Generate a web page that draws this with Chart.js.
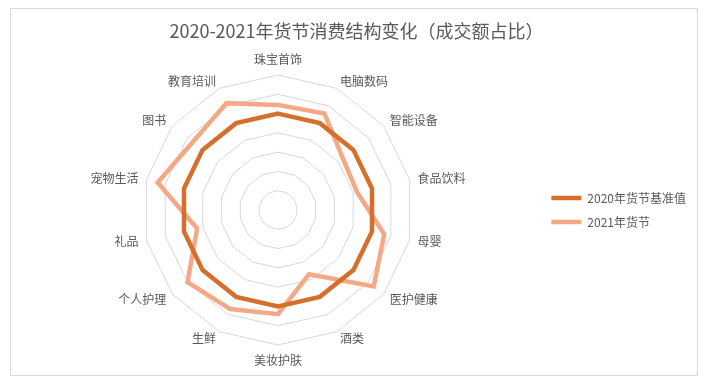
<!DOCTYPE html>
<html>
<head>
<meta charset="utf-8">
<script src="https://cdn.jsdelivr.net/npm/chart.js@4/dist/chart.umd.min.js"></script>
<style>
  body { margin: 0; background: #fff; }
  #wrap { width: 704px; height: 384px; }
</style>
</head>
<body>
<div id="wrap"><canvas id="radar-chart" width="704" height="384"></canvas></div>
<script>
    const categories = ['珠宝首饰', '电脑数码', '智能设备', '食品饮料', '母婴', '医护健康', '酒类',
        '美妆护肤', '生鲜', '个人护理', '礼品', '宠物生活', '图书', '教育培训'];
    const base2020 = [1, 1, 1, 1, 1, 1, 1, 1, 1, 1, 1, 1, 1, 1];
    const fest2021 = [1.09, 1.11, 0.86, 0.84, 1.13, 1.27, 0.74, 1.08, 1.14, 1.20, 0.86, 1.28, 1.13, 1.23];
    const seriesNames = ['2020年货节基准值', '2021年货节'];

    const fontFamily = '"Noto Sans CJK SC", "Microsoft YaHei", sans-serif';
    const textColor = '#595959';

    // light grey frame round the whole chart
    const framePlugin = {
        id: 'frame',
        beforeDraw(chart) {
            const ctx = chart.ctx;
            ctx.save();
            ctx.fillStyle = '#fff';
            ctx.fillRect(0, 0, chart.width, chart.height);
            ctx.strokeStyle = '#d9d9d9';
            ctx.lineWidth = 1;
            ctx.strokeRect(10.5, 8.5, 687, 367);
            ctx.restore();
        }
    };

    // centre the side labels vertically on their spoke, like the original
    const labelCenterPlugin = {
        id: 'labelCenter',
        afterLayout(chart) {
            const scale = chart.scales.r;
            const items = scale._pointLabelItems || [];
            const n = categories.length;
            items.forEach((item, i) => {
                const deg = Math.round(i * 360 / n);
                const h = item.bottom - item.top;
                let dy = 0;
                if (deg === 0 || deg === 180 || deg === 90 || deg === 270) dy = 0;
                else if (deg < 90 || deg > 270) dy = h / 2;
                else dy = -h / 2;
                item.y += dy;
                item.top += dy;
                item.bottom += dy;
            });
        }
    };

    const ctx = document.getElementById('radar-chart').getContext('2d');
    const chart = new Chart(ctx, {
        type: 'radar',
        data: {
            labels: categories,
            datasets: [{
                label: seriesNames[0],
                data: base2020,
                borderColor: '#d5702c',
                backgroundColor: '#d5702c',
                borderWidth: 4.5,
                borderCapStyle: 'round',
                fill: false,
                pointRadius: 0,
                pointHoverRadius: 0
            }, {
                label: seriesNames[1],
                data: fest2021,
                borderColor: '#f4a886',
                backgroundColor: '#f4a886',
                borderWidth: 4.5,
                borderCapStyle: 'round',
                fill: false,
                pointRadius: 0,
                pointHoverRadius: 0
            }]
        },
        options: {
            responsive: false,
            animation: false,
            devicePixelRatio: 1,
            elements: { line: { tension: 0 } },
            layout: { padding: { top: 8, bottom: 15, left: 17, right: 8 } },
            scales: {
                r: {
                    min: 0,
                    max: 1.4,
                    ticks: { display: false, stepSize: 0.2 },
                    angleLines: { display: false },
                    grid: { color: '#d9d9d9', lineWidth: 1 },
                    pointLabels: {
                        padding: 8,
                        color: textColor,
                        font: { family: fontFamily, size: 12 }
                    }
                }
            },
            plugins: {
                title: {
                    display: true,
                    text: '2020-2021年货节消费结构变化（成交额占比）',
                    color: textColor,
                    padding: { top: 12, bottom: 11 },
                    font: { family: fontFamily, size: 18, weight: 'normal' }
                },
                legend: {
                    position: 'right',
                    title: {
                        display: true,
                        text: ' ',
                        padding: { top: 31, bottom: 0 },
                        font: { size: 10 }
                    },
                    labels: {
                        usePointStyle: true,
                        pointStyle: 'line',
                        pointStyleWidth: 30,
                        padding: 12,
                        color: textColor,
                        font: { family: fontFamily, size: 12 }
                    }
                },
                tooltip: { enabled: false }
            }
        },
        plugins: [framePlugin, labelCenterPlugin]
    });
</script>
</body>
</html>
